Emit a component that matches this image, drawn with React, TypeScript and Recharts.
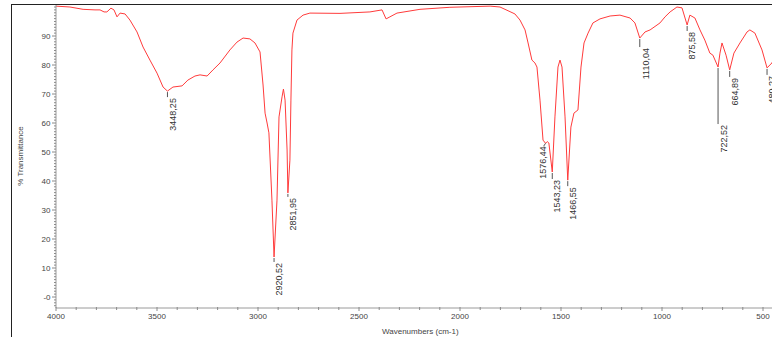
import React from 'react';
import { ComposedChart, Line, Scatter, XAxis, YAxis } from 'recharts';

// ---- data ----
const wavenumbers = [
  4000, 3931, 3866, 3807, 3782, 3762, 3748, 3728, 3713, 3698, 3683, 3658, 3634, 3599, 3569, 3535, 3500, 3470,
  3448.25, 3421, 3376, 3347, 3312, 3287, 3252, 3223, 3188, 3139, 3104, 3074, 3040, 3015, 2990, 2975, 2965, 2955,
  2946, 2931, 2920.52, 2906, 2896, 2881, 2874, 2866, 2856, 2851.95, 2842, 2837, 2832, 2827, 2807, 2777, 2743, 2594,
  2446, 2386, 2366, 2347, 2312, 2198, 2050, 1851, 1802, 1728, 1703, 1678, 1663, 1644, 1629, 1619, 1604, 1589,
  1576.44, 1568, 1560, 1543.23, 1530, 1515, 1505, 1495, 1480, 1466.55, 1451, 1436, 1416, 1401, 1386, 1366, 1342,
  1307, 1257, 1208, 1158, 1134, 1110.04, 1084, 1059, 1010, 985, 960, 926, 901, 875.58, 862, 837, 812, 788, 763,
  748, 722.52, 713, 703, 683, 664.89, 644, 614, 579, 565, 540, 505, 480, 456, 426, 401,
];

const transmittance = [
  100.3, 100.0, 99.2, 99.0, 99.0, 98.3, 98.3, 99.6, 99.0, 96.6, 97.9, 97.6, 95.5, 91.4, 86.2, 81.7, 77.2, 72.4,
  71.0, 72.4, 72.8, 74.8, 76.2, 76.6, 76.2, 78.3, 80.7, 85.2, 87.9, 89.3, 89.0, 87.6, 84.5, 73.1, 63.4, 60.0,
  56.6, 33.4, 13.8, 33.4, 62.1, 69.0, 71.7, 67.9, 50.7, 35.9, 47.2, 67.9, 85.2, 91.0, 95.5, 97.2, 97.9, 97.8,
  98.3, 99.0, 95.9, 96.6, 97.9, 99.2, 99.9, 100.3, 100.0, 97.6, 95.5, 92.1, 87.6, 81.7, 80.7, 79.3, 67.9, 54.1,
  53.0, 53.6, 53.1, 43.1, 62.1, 79.3, 81.7, 79.3, 62.1, 40.3, 58.6, 63.4, 64.5, 79.3, 87.6, 91.0, 94.5,
  95.9, 96.9, 97.2, 96.2, 94.5, 89.3, 91.4, 92.1, 94.5, 96.6, 98.3, 100.0, 99.7, 93.8, 97.2, 96.2, 92.1, 88.6, 84.1,
  83.4, 79.3, 84.1, 87.6, 83.4, 78.3, 84.1, 87.6, 91.4, 92.1, 91.0, 85.2, 79.0, 80.7, 85.2, 86.9,
];

const peakWavenumbers = [3448.25, 2920.52, 2851.95, 1576.44, 1543.23, 1466.55, 1110.04, 875.58, 722.52, 664.89, 480];
const peakLabels = ['3448,25', '2920,52', '2851,95', '1576,44', '1543,23', '1466,55', '1110,04', '875,58', '722,52', '664,89', '480,27'];

const xMajorTicks = [4000, 3500, 3000, 2500, 2000, 1500, 1000, 500];
const xTickLabels = ['4000', '3500', '3000', '2500', '2000', '1500', '1000', '500'];
const yMajorTicks = [0, 10, 20, 30, 40, 50, 60, 70, 80, 90];
const yTickLabels = ['-0', '10', '20', '30', '40', '50', '60', '70', '80', '90'];

const xTitle = 'Wavenumbers (cm-1)';
const yTitle = '% Transmittance';

// ---- derived tables ----
const spectrum = wavenumbers.map((w, i) => ({ w, t: transmittance[i] }));
const peaks = peakWavenumbers.map((w, i) => ({ w, t: transmittance[wavenumbers.indexOf(w)], label: peakLabels[i] }));

const xTickValues: number[] = [];
for (let v = 4000; v >= 400; v -= 100) xTickValues.push(v);
const yTickValues: number[] = [];
for (let v = -3; v <= 100; v++) yTickValues.push(v);

// ---- styles ----
const FONT = '"Liberation Sans", Arial, sans-serif';
const labelStyle: Record<string, { dx: number; gap: number; side?: boolean }> = {
  '3448,25': { dx: 9, gap: 7 },
  '2920,52': { dx: 8, gap: 6 },
  '2851,95': { dx: 8, gap: 5 },
  '1576,44': { dx: 0.5, gap: 3, side: true },
  '1543,23': { dx: 8, gap: 8 },
  '1466,55': { dx: 8, gap: 7 },
  '1110,04': { dx: 9, gap: 10 },
  '875,58': { dx: 7.5, gap: 7 },
  '722,52': { dx: 8.5, gap: 58 },
  '664,89': { dx: 8.5, gap: 8 },
  '480,27': { dx: 8, gap: 8 },
};

function XTick(props: any) {
  const { x, y, payload } = props;
  const idx = xMajorTicks.indexOf(payload.value);
  return (
    <g>
      <line x1={x} x2={x} y1={y - 1} y2={y + (idx >= 0 ? 3 : 2)} stroke="#8a8a8a" strokeWidth={1} />
      {idx >= 0 && (
        <text x={x} y={y + 10.5} textAnchor="middle" fontSize={8} fill="#444" fontFamily={FONT}>
          {xTickLabels[idx]}
        </text>
      )}
    </g>
  );
}

function YTick(props: any) {
  const { x, y, payload } = props;
  const idx = yMajorTicks.indexOf(payload.value);
  return (
    <g>
      <line x1={x - (idx >= 0 ? 4 : 2)} x2={x} y1={y} y2={y} stroke="#8a8a8a" strokeWidth={1} />
      {idx >= 0 && (
        <text x={x - 5.5} y={y + 3} textAnchor="end" fontSize={8} fill="#444" fontFamily={FONT}>
          {yTickLabels[idx]}
        </text>
      )}
    </g>
  );
}

function PeakMark(props: any) {
  const { cx, cy, payload } = props;
  if (cx == null || cy == null) return <g />;
  const s = labelStyle[payload.label] || { dx: 8, gap: 7 };
  const tx = cx + s.dx;
  const ty = cy + s.gap;
  return (
    <g>
      {s.side ? (
        <line x1={cx} y1={cy} x2={cx - 2} y2={cy + 3} stroke="#555" strokeWidth={1} />
      ) : (
        <line x1={cx} y1={cy + 1} x2={cx} y2={cy + s.gap - 1} stroke="#555" strokeWidth={1} />
      )}
      <text
        x={tx}
        y={ty}
        transform={`rotate(-90 ${tx} ${ty})`}
        textAnchor="end"
        fontSize={9}
        fill="#333"
        fontFamily={FONT}
      >
        {payload.label}
      </text>
    </g>
  );
}

function XTitle(props: any) {
  const vb = props.viewBox || { x: 56, y: 308, width: 727, height: 29 };
  return (
    <text x={vb.x + 326} y={vb.y + 25.5} fontSize={8} fill="#444" fontFamily={FONT}>
      {xTitle}
    </text>
  );
}

function YTitle(props: any) {
  const vb = props.viewBox || { x: 0, y: 5, width: 56, height: 303 };
  const x = vb.x + 23;
  const y = vb.y + 151;
  return (
    <text x={x} y={y} transform={`rotate(-90 ${x} ${y})`} textAnchor="middle" fontSize={8} fill="#444" fontFamily={FONT}>
      {yTitle}
    </text>
  );
}

export default function App() {
  return (
    <div
      style={{
        position: 'fixed',
        left: 0,
        top: 0,
        width: 772,
        height: 337,
        overflow: 'hidden',
        background: '#fff',
      }}
    >
      <div style={{ position: 'absolute', left: 0, top: 0 }}>
        <ComposedChart
          width={800}
          height={337}
          data={spectrum}
          margin={{ top: 5, right: 16.8, bottom: 0, left: 0 }}
        >
          <XAxis
            dataKey="w"
            type="number"
            domain={[400, 4000]}
            reversed
            allowDataOverflow
            ticks={xTickValues}
            interval={0}
            tick={<XTick />}
            tickLine={false}
            tickSize={0}
            tickMargin={0}
            axisLine={{ stroke: '#9a9a9a', strokeWidth: 1 }}
            height={29}
            label={<XTitle />}
          />
          <YAxis
            type="number"
            domain={[-3.79, 100.69]}
            allowDataOverflow
            ticks={yTickValues}
            interval={0}
            tick={<YTick />}
            tickLine={false}
            tickSize={0}
            tickMargin={0}
            axisLine={{ stroke: '#9a9a9a', strokeWidth: 1 }}
            width={56}
            label={<YTitle />}
          />
          <Line
            dataKey="t"
            type="linear"
            stroke="#ff3b3b"
            strokeWidth={1}
            dot={false}
            activeDot={false}
            isAnimationActive={false}
          />
          <Scatter data={peaks} dataKey="t" shape={PeakMark} isAnimationActive={false} />
        </ComposedChart>
      </div>
      <div
        style={{
          position: 'absolute',
          left: 11,
          top: 4,
          width: 800,
          height: 400,
          borderLeft: '1px solid #222',
          borderTop: '1px solid #222',
          pointerEvents: 'none',
        }}
      />
    </div>
  );
}
